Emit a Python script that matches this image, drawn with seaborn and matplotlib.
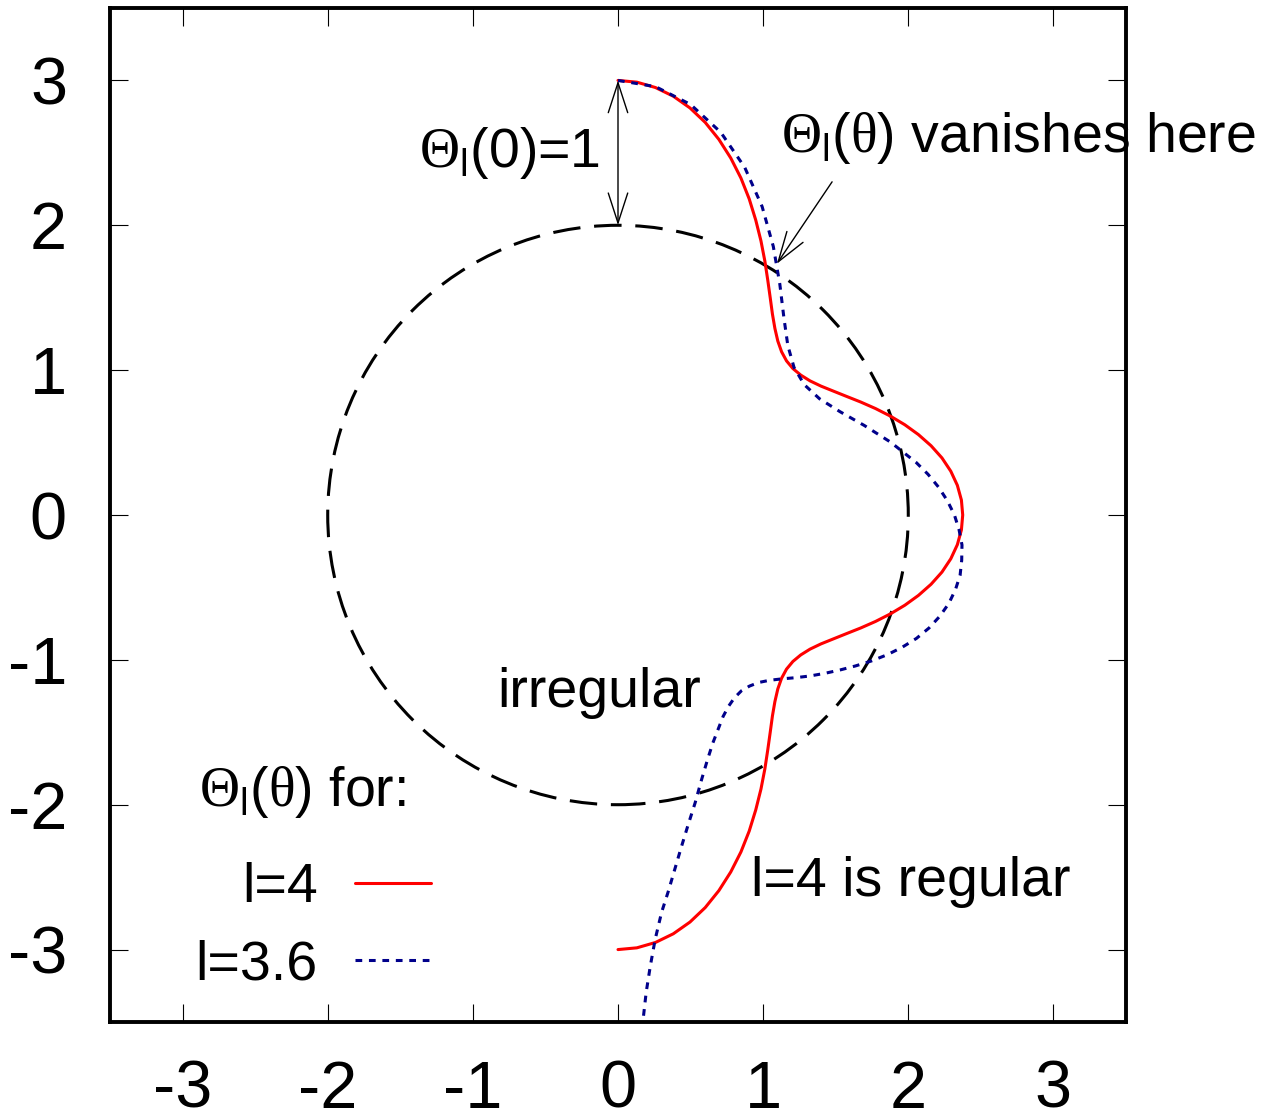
import matplotlib
matplotlib.use("Agg")
import matplotlib.pyplot as plt
from matplotlib.patches import Circle
import seaborn as sns

# Values (data units)
circle_radius = 2.0

# l=4 curve (solid red)
red_x = [0.000, 0.130, 0.258, 0.381, 0.496, 0.601, 0.695, 0.777, 0.847, 0.904,
         0.949, 0.985, 1.012, 1.032, 1.049, 1.064, 1.081, 1.101, 1.127, 1.161,
         1.205, 1.259, 1.323, 1.398, 1.482, 1.574, 1.672, 1.774, 1.876, 1.976,
         2.070, 2.157, 2.232, 2.293, 2.338, 2.366, 2.375,
         2.366, 2.338, 2.293, 2.232, 2.157, 2.070, 1.976, 1.876, 1.774, 1.672,
         1.574, 1.482, 1.398, 1.323, 1.259, 1.205, 1.161, 1.127, 1.101, 1.081,
         1.064, 1.049, 1.032, 1.012, 0.985, 0.949, 0.904, 0.847, 0.777, 0.695,
         0.601, 0.496, 0.381, 0.258, 0.130, 0.000]
red_y = [3.000, 2.988, 2.951, 2.891, 2.810, 2.710, 2.593, 2.464, 2.326, 2.182,
         2.036, 1.892, 1.752, 1.620, 1.498, 1.387, 1.288, 1.201, 1.127, 1.064,
         1.011, 0.966, 0.926, 0.890, 0.856, 0.819, 0.780, 0.735, 0.683, 0.623,
         0.555, 0.478, 0.394, 0.302, 0.205, 0.103, 0.000,
         -0.103, -0.205, -0.302, -0.394, -0.478, -0.555, -0.623, -0.683, -0.735, -0.780,
         -0.819, -0.856, -0.890, -0.926, -0.966, -1.011, -1.064, -1.127, -1.201, -1.288,
         -1.387, -1.498, -1.620, -1.752, -1.892, -2.036, -2.182, -2.326, -2.464, -2.593,
         -2.710, -2.810, -2.891, -2.951, -2.988, -3.000]

# l=3.6 curve (dotted dark blue), runs off the bottom of the plot
blue_x = [0.000, 0.259, 0.500, 0.708, 0.873, 0.993, 1.070, 1.115, 1.143, 1.170,
          1.213, 1.284, 1.389, 1.530, 1.697, 1.878, 2.055, 2.136, 2.208, 2.269,
          2.318, 2.350, 2.370, 2.368, 2.357, 2.325, 2.279, 2.217, 2.143, 2.056,
          1.958, 1.854, 1.745, 1.636, 1.529, 1.425, 1.324, 1.225, 1.131, 1.045,
          0.970, 0.906, 0.850, 0.803, 0.762, 0.724, 0.690, 0.653, 0.616, 0.576,
          0.532, 0.480, 0.434, 0.390, 0.346, 0.300, 0.256, 0.222, 0.194, 0.173,
          0.165]
blue_y = [3.000, 2.957, 2.834, 2.642, 2.400, 2.129, 1.854, 1.593, 1.362, 1.170,
          1.018, 0.899, 0.802, 0.713, 0.618, 0.503, 0.362, 0.281, 0.193, 0.099,
          0.000, -0.103, -0.207, -0.312, -0.416, -0.515, -0.611, -0.699, -0.780, -0.852,
          -0.913, -0.965, -1.008, -1.042, -1.070, -1.093, -1.111, -1.123, -1.131, -1.141,
          -1.156, -1.181, -1.214, -1.261, -1.320, -1.391, -1.479, -1.575, -1.691, -1.826,
          -1.985, -2.149, -2.300, -2.450, -2.600, -2.744, -2.930, -3.117, -3.296, -3.483,
          -3.566]

legend_labels = ["l=4", "l=3.6"]
ticks = [-3, -2, -1, 0, 1, 2, 3]
vanish_idx = 7  # blue point where Theta_l(theta) vanishes (meets the circle)

sns.set_theme(style="white")
plt.rcParams["font.family"] = ["Liberation Sans", "DejaVu Sans"]
plt.rcParams["mathtext.fontset"] = "custom"
plt.rcParams["mathtext.rm"] = "Liberation Serif"
plt.rcParams["mathtext.sf"] = "Liberation Sans"
plt.rcParams["axes.unicode_minus"] = False
plt.rcParams["text.color"] = "black"

fig = plt.figure(figsize=(12.82, 11.2), dpi=100)
ax = fig.add_axes([110 / 1282, 1 - 1022 / 1120, 1016 / 1282, 1014 / 1120])

# dashed reference circle
ax.add_patch(Circle((0, 0), circle_radius, fill=False, ec="black", lw=2.2,
                    ls=(0, (9, 4.5))))

sns.lineplot(x=red_x, y=red_y, sort=False, estimator=None, color="#ff0000",
             lw=2.2, ax=ax)
sns.lineplot(x=blue_x, y=blue_y, sort=False, estimator=None, color="#00008b",
             lw=2.2, ls=(0, (2.2, 2.2)), ax=ax)

ax.set_xlim(-3.5, 3.5)
ax.set_ylim(-3.5, 3.5)
ax.set_xticks(ticks)
ax.set_yticks(ticks)
ax.tick_params(direction="in", length=13, width=0.8, color="black",
               top=True, right=True, bottom=True, left=True,
               labelsize=48, labelcolor="black")
ax.tick_params(axis="x", pad=27)
ax.tick_params(axis="y", pad=31)
for s in ax.spines.values():
    s.set_linewidth(2.8)
    s.set_color("black")

# annotations
theta_l = r"$\Theta_{\mathsf{l}}$"
arrow_style = dict(color="black", lw=1, shrinkA=0, shrinkB=0, mutation_scale=20)
ax.annotate("", xy=(0, red_y[0]), xytext=(0, circle_radius),
            arrowprops=dict(arrowstyle="<->,head_length=1.08,head_width=0.35", **arrow_style))
ax.annotate("", xy=(1.095, 1.735), xytext=(1.475, 2.30),
            arrowprops=dict(arrowstyle="->,head_length=1.08,head_width=0.35", **arrow_style))

ax.text(-1.372, 2.405, theta_l + "(0)=1", fontsize=40, ha="left", va="baseline")
ax.text(1.123, 2.509, theta_l + r"($\mathrm{\theta}$) vanishes here", fontsize=40,
        ha="left", va="baseline")
ax.text(-0.832, -1.327, "irregular", fontsize=40, ha="left", va="baseline")
ax.text(0.915, -2.633, "l=4 is regular", fontsize=40, ha="left", va="baseline")

# key: title line, then labels right-aligned with samples after them
ax.text(-2.89, -2.011, theta_l + r"($\mathrm{\theta}$) for:", fontsize=40,
        ha="left", va="baseline")
leg = ax.legend(ax.lines[:2], legend_labels,
                loc="lower left", bbox_to_anchor=(-2.91, -3.29),
                bbox_transform=ax.transData, frameon=False, markerfirst=False,
                fontsize=40, handlelength=1.37, handletextpad=0.67,
                labelspacing=0.46, borderpad=0, borderaxespad=0)

fig.savefig("out.png", dpi=100)
